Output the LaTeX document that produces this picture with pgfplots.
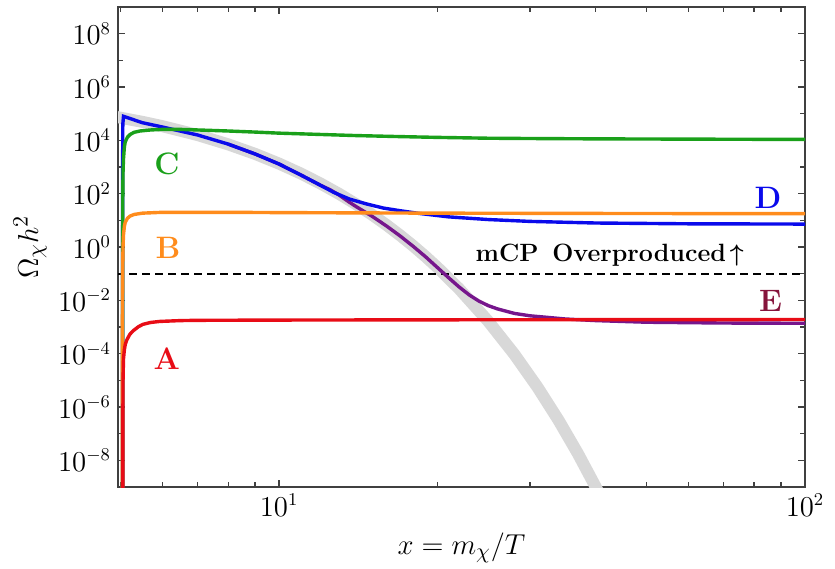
\documentclass[border=0pt]{standalone}
\usepackage{pgfplots}
\pgfplotsset{compat=1.18}

\definecolor{cA}{RGB}{232,12,22}
\definecolor{cB}{RGB}{255,140,28}
\definecolor{cC}{RGB}{26,160,26}
\definecolor{cD}{RGB}{10,10,235}
\definecolor{cE}{RGB}{118,22,140}
\definecolor{cElab}{RGB}{134,20,60}
\definecolor{band}{RGB}{216,216,216}

\begin{document}
\begin{tikzpicture}
\begin{axis}[
  name=ax,
  scale only axis, width=343.5pt, height=240pt,
  xmode=log, ymode=log,
  xmin=4.94, xmax=100, ymin=1e-9, ymax=1e9,
  xtick={10,100},
  minor xtick={5,6,7,8,9,20,30,40,50,60,70,80,90},
  ytick={1e-8,1e-6,1e-4,1e-2,1,1e2,1e4,1e6,1e8},
  minor ytick={1e-9,1e-7,1e-5,1e-3,1e-1,1e1,1e3,1e5,1e7,1e9},
  major tick length=3.5pt, minor tick length=2.6pt,
  tick style={black!75, line width=0.6pt},
  axis line style={black!75, line width=0.8pt},
  tick label style={font=\fontsize{13.5}{16}\selectfont},
  xlabel={$x = m_\chi/T$}, ylabel={$\Omega_\chi h^2$},
  label style={font=\fontsize{15}{18}\selectfont},
  xlabel style={at={(axis description cs:0.5,-0.127)}, anchor=center},
  ylabel style={at={(axis description cs:-0.128,0.5)}, anchor=center},
]
% equilibrium band
\addplot[band, line width=6pt] coordinates {
  (4.9,7.53e4) (5,7.03e4) (5.5,4.92e4) (6,3.40e4) (7,1.58e4) (8,7.08e3)
  (9,3.11e3) (10,1.34e3) (11,5.69e2) (12,2.38e2) (13,98.9) (14,40.6)
  (15,16.6) (16,6.73) (17,2.71) (18,1.09) (19,0.434) (20,0.172)
  (22,0.0269) (25,1.62e-3) (28,9.57e-5) (31,5.55e-6) (34,3.17e-7)
  (37,1.79e-8) (40,1.0e-9) (43,5.6e-11)};
% overproduction line
\addplot[black, dashed, line width=1pt, dash pattern=on 4pt off 2.5pt]
  coordinates {(4.9,0.1) (100,0.1)};
% E
\addplot[cE, line width=1.7pt] coordinates {
  (8,7.24e3) (9,3.09e3) (10,1.29e3) (11,501) (12,204) (12.5,141) (13,89.1)
  (13.6,47.9) (14,33.1) (15,14.5) (16,6.17) (17,2.57) (18,1.047) (19,0.427)
  (20,0.170) (21,0.0708) (22,0.0316) (23,0.01585) (24,9.33e-3) (25,6.31e-3)
  (26,4.79e-3) (28,3.24e-3) (30,2.63e-3) (35,2.0e-3) (40,1.74e-3)
  (50,1.51e-3) (70,1.41e-3) (100,1.38e-3)};
% D
\addplot[cD, line width=1.7pt] coordinates {
  (5.04,1e-10) (5.041,1e3) (5.045,3.98e4) (5.06,7.94e4) (5.5,4.57e4)
  (6,3.16e4) (7,1.585e4) (8,7.24e3) (9,3.09e3) (10,1.29e3) (11,501)
  (12,204) (12.7,112) (13.6,63.1) (14.7,40.7) (15.8,28.8) (17,22.9)
  (18.3,18.6) (21,13.5) (25,10.7) (30,9.12) (40,7.94) (60,7.41) (100,7.24)};
% C
\addplot[cC, line width=1.7pt] coordinates {
  (5.04,1e-10) (5.041,1) (5.045,100) (5.05,631) (5.06,2.0e3) (5.08,5.62e3)
  (5.1,8.91e3) (5.15,1.32e4) (5.21,1.66e4) (5.3,2.0e4) (5.44,2.24e4)
  (5.7,2.45e4) (6,2.57e4) (6.5,2.57e4) (7,2.45e4) (8,2.24e4) (9,2.04e4)
  (10,1.86e4) (12,1.66e4) (14,1.51e4) (17,1.38e4) (20,1.29e4) (25,1.20e4)
  (30,1.17e4) (40,1.135e4) (60,1.11e4) (100,1.08e4)};
% B
\addplot[cB, line width=1.7pt] coordinates {
  (5.035,1e-10) (5.036,1e-3) (5.04,0.0316) (5.045,0.316) (5.05,1)
  (5.06,2.82) (5.08,6.03) (5.1,8.51) (5.15,12.0) (5.21,14.5) (5.3,16.6)
  (5.5,18.6) (6,20.0) (8,20.0) (10,19.5) (20,18.6) (50,18.0) (100,17.8)};
% A
\addplot[cA, line width=1.7pt] coordinates {
  (5.045,1e-10) (5.046,1e-7) (5.05,1e-5) (5.06,6.31e-5) (5.08,1.41e-4)
  (5.1,2.24e-4) (5.13,3.16e-4) (5.2,5.25e-4) (5.28,7.24e-4) (5.4,1.02e-3)
  (5.51,1.26e-3) (5.7,1.48e-3) (5.94,1.62e-3) (6.5,1.74e-3) (7,1.78e-3)
  (10,1.82e-3) (20,1.86e-3) (100,1.91e-3)};

\node[text=cC, font=\fontsize{15.5}{18}\selectfont\bfseries] at (axis cs:6.12,1260) {C};
\node[text=cB, font=\fontsize{15.5}{18}\selectfont\bfseries] at (axis cs:6.15,0.91) {B};
\node[text=cA, font=\fontsize{15.5}{18}\selectfont\bfseries] at (axis cs:6.12,6.5e-5) {A};
\node[text=cD, font=\fontsize{15.5}{18}\selectfont\bfseries] at (axis cs:85,68) {D};
\node[text=cElab, font=\fontsize{15.5}{18}\selectfont\bfseries] at (axis cs:86,9.6e-3) {E};
\node[anchor=base, font=\fontsize{12.5}{15}\selectfont\bfseries\boldmath]
  at (axis cs:42.5,0.275) {mCP\hspace{0.55em}Overproduced\hspace{0.15em}$\uparrow$};
\end{axis}
\pgfresetboundingbox
\path ([shift={(-59pt,-40.5pt)}]ax.south west)
  rectangle ([shift={(358.5pt,243.5pt)}]ax.south west);
\end{tikzpicture}
\end{document}
